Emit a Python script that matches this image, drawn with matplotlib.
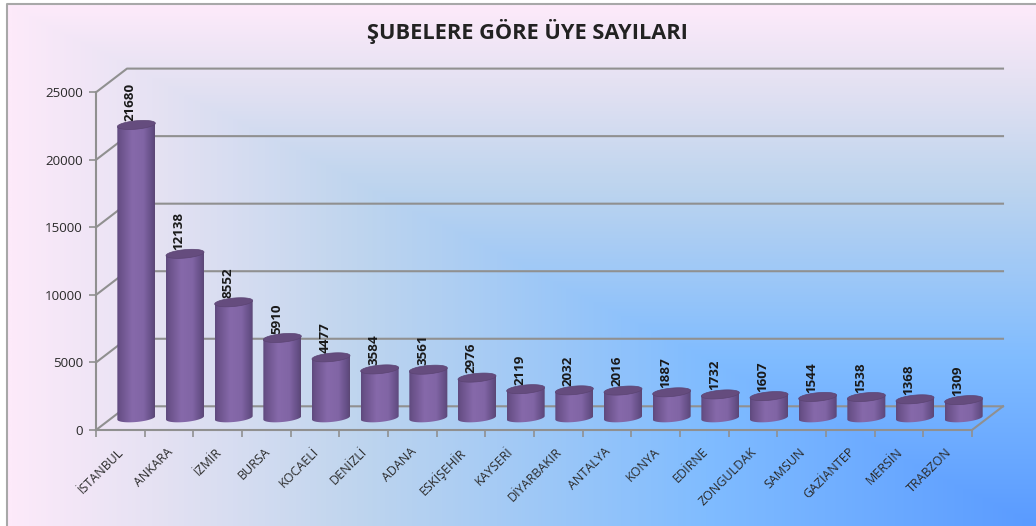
#!/usr/bin/env python3
"""Branch member counts as a fake 3D cylinder chart."""

import matplotlib
matplotlib.use("Agg")
import matplotlib.pyplot as plt
import numpy as np
from matplotlib.colors import LinearSegmentedColormap
from matplotlib.patches import Polygon

cities = ["İSTANBUL", "ANKARA", "İZMİR", "BURSA", "KOCAELİ", "DENİZLİ", "ADANA",
          "ESKİŞEHİR", "KAYSERİ", "DİYARBAKIR", "ANTALYA", "KONYA", "EDİRNE",
          "ZONGULDAK", "SAMSUN", "GAZİANTEP", "MERSİN", "TRABZON"]
members = [21680, 12138, 8552, 5910, 4477, 3584, 3561, 2976, 2119, 2032, 2016,
           1887, 1732, 1607, 1544, 1538, 1368, 1309]
y_ticks = [0, 5000, 10000, 15000, 20000, 25000]
title = "ŞUBELERE GÖRE ÜYE SAYILARI"

W, H = 1036, 526
X0, X1, Y0, Y1 = 96, 972, 430, 92.3  # plot box in pixels
GREY = "#909090"

plt.rcParams["font.family"] = ["Open Sans", "DejaVu Sans"]

fig = plt.figure(figsize=(W / 100, H / 100), dpi=100)

# background: gradient runs out of the bottom right corner, so the
# top and left edges are both the pale end
bg = fig.add_axes([0, 0, 1, 1])
bg.set_axis_off()
yy, xx = np.mgrid[0:1:263j, 0:1:518j]
t = np.minimum(xx, yy)
bg_cmap = LinearSegmentedColormap.from_list(
    "bg", [(0, "#fdeafa"), (0.14, "#e6e2f3"), (0.34, "#bfd5ee"), (0.68, "#80bcff"), (1, "#5a9bff")])
bg.imshow(bg_cmap(t), extent=[7, W, H, 4], aspect="auto", interpolation="bilinear")
bg.set_xlim(0, W)
bg.set_ylim(H, 0)
bg.plot([7, 7, W], [H, 4, 4], color="#a8a8a8", lw=1.5)

ax = fig.add_axes([X0 / W, 1 - Y0 / H, (X1 - X0) / W, (Y0 - Y1) / H])
ax.patch.set_alpha(0)
n = len(cities)

ppx = (X1 - X0) / n
ppy = (Y0 - Y1) / 25000
# depth offset of the back wall, in data units
dx, dy = 31 / ppx, 23.7 / ppy

for v in y_ticks:
    ax.plot([0, dx, n + dx], [v, v + dy, v + dy], color=GREY, lw=1.5, clip_on=False, zorder=1)
ax.plot([n, n + dx], [0, dy], color=GREY, lw=1.5, clip_on=False, zorder=1)

for s in ("top", "right"):
    ax.spines[s].set_visible(False)
for s in ("left", "bottom"):
    ax.spines[s].set_color(GREY)
    ax.spines[s].set_linewidth(1.5)
ax.set_xticks(np.arange(n + 1))
ax.set_xticklabels([])
ax.set_yticks(y_ticks)
ax.tick_params(axis="y", length=5, color=GREY, width=1.2, labelsize=9.6, pad=4.5, labelcolor="#2a2a2a")
ax.tick_params(axis="x", length=5, color=GREY, width=1.2)
for i, c in enumerate(cities):
    ax.annotate(c, (i + 0.5, 0), xytext=(-2, -11), textcoords="offset points",
                rotation=45, ha="right", va="top", rotation_mode="anchor",
                fontsize=9, color="#2a2a2a", annotation_clip=False)

# cylinders
side = LinearSegmentedColormap.from_list(
    "side", [(0, "#5f4a7e"), (0.08, "#6a5189"), (0.4, "#8669aa"), (0.7, "#8165a5"),
             (0.93, "#644e85"), (1, "#5c4775")])
gradient = np.linspace(0, 1, 64).reshape(1, -1)
half_w = 19 / ppx
ry = 4.2 / ppy
base = 12.2 / ppy  # centre of the base ellipse above the floor edge
shift = 16 / ppx
tilt = 0.09 * half_w * ppx / ppy  # ellipses lean up to the right
theta = np.linspace(0, 2 * np.pi, 80)
ex = half_w * np.cos(theta)
ey = ry * np.sin(theta) + tilt * np.cos(theta)
lower = np.sin(theta) <= 0

ax.set_xlim(0, n)
ax.set_ylim(0, 25000)

for i, v in enumerate(members):
    cx = i + 0.5 + shift
    lo, hi = base, base + v
    front = np.argsort(ex[lower])
    body = np.vstack([
        np.column_stack([cx + ex[lower][front], lo + ey[lower][front]]),
        [[cx + half_w, hi + tilt], [cx - half_w, hi - tilt]],
    ])
    clip = Polygon(body, closed=True, transform=ax.transData, fc="none", ec="none")
    ax.add_patch(clip)
    im = ax.imshow(gradient, cmap=side, extent=[cx - half_w, cx + half_w, lo - 2 * ry - tilt, hi + tilt],
                   aspect="auto", zorder=3, interpolation="bilinear")
    im.set_clip_box(fig.bbox)
    im.set_clip_path(clip)
    ax.add_patch(Polygon(np.column_stack([cx + ex, hi + ey]), closed=True, fc="#654c7e", ec="#5b4473",
                         lw=0.5, zorder=4, clip_on=False))
    ax.annotate(str(v), (cx, hi + ry), xytext=(-4.2, 0), textcoords="offset points",
                rotation=90, ha="center", va="bottom", fontsize=9.6, fontweight="bold",
                color="#1a1a1a", zorder=2.5, annotation_clip=False)

ax.set_xlim(0, n)
ax.set_ylim(0, 25000)

fig.text(527 / W, 1 - 31 / H, title, ha="center", va="center", fontsize=15.7, fontweight="bold", color="#222222")

fig.savefig("out.png", dpi=100)
plt.close(fig)
